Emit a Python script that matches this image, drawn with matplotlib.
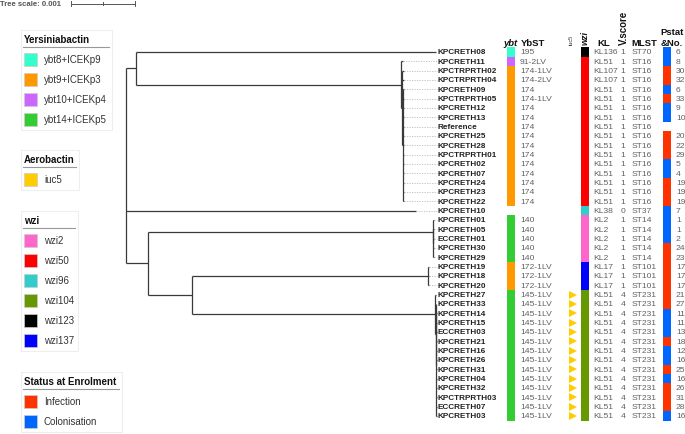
import matplotlib
matplotlib.use('Agg')
import matplotlib.pyplot as plt
from matplotlib.patches import Rectangle
from matplotlib.transforms import blended_transform_factory

plt.rcParams['font.family'] = ['Liberation Sans', 'DejaVu Sans']

# arbol (longitudes de rama en unidades de 0.001)
newick = ("((KPCRETH08:4.69,(KPCRETH11:0.03,(KPCTRPRTH02:0.03,KPCTRPRTH04:0.03,"
          "(KPCRETH09:0.02,KPCTRPRTH05:0.02,KPCRETH12:0.02,KPCRETH13:0.02,Reference:0.02,"
          "KPCRETH25:0.02,KPCRETH28:0.02,KPCTRPRTH01:0.02,KPCRETH02:0.02,KPCRETH07:0.02,"
          "KPCRETH24:0.02,KPCRETH23:0.02,KPCRETH22:0.02):0.01):0.02):4.14):0.16,"
          "KPCRETH10:4.53,"
          "((KPCRETH01:0.02,(KPCRETH05:0.01,ECCRETH01:0.01,KPCRETH30:0.01,KPCRETH29:0.01):0.01):4.45,"
          "((KPCRETH19:0.02,KPCRETH18:0.02,KPCRETH20:0.02):3.69,"
          "(KPCRETH27:0.02,(KPCRETH33:0.01,(KPCRETH14:0.01,KPCRETH15:0.01,ECCRETH03:0.01,"
          "KPCRETH21:0.01,KPCRETH16:0.01,KPCRETH26:0.01,KPCRETH31:0.01,KPCRETH04:0.01,"
          "KPCRETH32:0.01,KPCTRPRTH03:0.01,ECCRETH07:0.01,KPCRETH03:0.01):0.01):0.01):3.80):0.69):0.34);")

names = ['KPCRETH08', 'KPCRETH11', 'KPCTRPRTH02', 'KPCTRPRTH04', 'KPCRETH09', 'KPCTRPRTH05',
         'KPCRETH12', 'KPCRETH13', 'Reference', 'KPCRETH25', 'KPCRETH28', 'KPCTRPRTH01',
         'KPCRETH02', 'KPCRETH07', 'KPCRETH24', 'KPCRETH23', 'KPCRETH22', 'KPCRETH10',
         'KPCRETH01', 'KPCRETH05', 'ECCRETH01', 'KPCRETH30', 'KPCRETH29', 'KPCRETH19',
         'KPCRETH18', 'KPCRETH20', 'KPCRETH27', 'KPCRETH33', 'KPCRETH14', 'KPCRETH15',
         'ECCRETH03', 'KPCRETH21', 'KPCRETH16', 'KPCRETH26', 'KPCRETH31', 'KPCRETH04',
         'KPCRETH32', 'KPCTRPRTH03', 'ECCRETH07', 'KPCRETH03']

ybt = ['ybt8', 'ybt10', 'ybt9', 'ybt9', 'ybt9', 'ybt9', 'ybt9', 'ybt9', 'ybt9', 'ybt9',
       'ybt9', 'ybt9', 'ybt9', 'ybt9', 'ybt9', 'ybt9', 'ybt9', '', 'ybt14', 'ybt14',
       'ybt14', 'ybt14', 'ybt14', 'ybt9', 'ybt9', 'ybt9', 'ybt14', 'ybt14', 'ybt14', 'ybt14',
       'ybt14', 'ybt14', 'ybt14', 'ybt14', 'ybt14', 'ybt14', 'ybt14', 'ybt14', 'ybt14', 'ybt14']

ybst = ['195', '91-2LV', '174-1LV', '174-2LV', '174', '174-1LV', '174', '174', '174', '174',
        '174', '174', '174', '174', '174', '174', '174', '', '140', '140',
        '140', '140', '140', '172-1LV', '172-1LV', '172-1LV', '145-1LV', '145-1LV', '145-1LV', '145-1LV',
        '145-1LV', '145-1LV', '145-1LV', '145-1LV', '145-1LV', '145-1LV', '145-1LV', '145-1LV', '145-1LV', '145-1LV']

iuc5 = [False] * 26 + [True] * 14

wzi = ['wzi123', 'wzi50', 'wzi50', 'wzi50', 'wzi50', 'wzi50', 'wzi50', 'wzi50', 'wzi50', 'wzi50',
       'wzi50', 'wzi50', 'wzi50', 'wzi50', 'wzi50', 'wzi50', 'wzi50', 'wzi96', 'wzi2', 'wzi2',
       'wzi2', 'wzi2', 'wzi2', 'wzi137', 'wzi137', 'wzi137', 'wzi104', 'wzi104', 'wzi104', 'wzi104',
       'wzi104', 'wzi104', 'wzi104', 'wzi104', 'wzi104', 'wzi104', 'wzi104', 'wzi104', 'wzi104', 'wzi104']

kl = ['KL136', 'KL51', 'KL107', 'KL107', 'KL51', 'KL51', 'KL51', 'KL51', 'KL51', 'KL51',
      'KL51', 'KL51', 'KL51', 'KL51', 'KL51', 'KL51', 'KL51', 'KL38', 'KL2', 'KL2',
      'KL2', 'KL2', 'KL2', 'KL17', 'KL17', 'KL17', 'KL51', 'KL51', 'KL51', 'KL51',
      'KL51', 'KL51', 'KL51', 'KL51', 'KL51', 'KL51', 'KL51', 'KL51', 'KL51', 'KL51']

vscore = [1, 1, 1, 1, 1, 1, 1, 1, 1, 1, 1, 1, 1, 1, 1, 1, 1, 0, 1, 1,
          1, 1, 1, 1, 1, 1, 4, 4, 4, 4, 4, 4, 4, 4, 4, 4, 4, 4, 4, 4]

mlst = ['ST70', 'ST16', 'ST16', 'ST16', 'ST16', 'ST16', 'ST16', 'ST16', 'ST16', 'ST16',
        'ST16', 'ST16', 'ST16', 'ST16', 'ST16', 'ST16', 'ST16', 'ST37', 'ST14', 'ST14',
        'ST14', 'ST14', 'ST14', 'ST101', 'ST101', 'ST101', 'ST231', 'ST231', 'ST231', 'ST231',
        'ST231', 'ST231', 'ST231', 'ST231', 'ST231', 'ST231', 'ST231', 'ST231', 'ST231', 'ST231']

status = ['C', 'C', 'I', 'I', 'C', 'I', 'C', 'C', '', 'I',
          'I', 'I', 'C', 'C', 'I', 'I', 'I', 'C', 'C', 'C',
          'C', 'I', 'I', 'I', 'I', 'I', 'I', 'I', 'C', 'C',
          'C', 'I', 'C', 'C', 'I', 'C', 'I', 'I', 'I', 'C']

patient_no = ['6', '8', '30', '32', '6', '33', '9', '10', '', '20',
              '22', '29', '5', '4', '19', '19', '19', '7', '1', '1',
              '2', '24', '23', '17', '17', '17', '21', '27', '11', '11',
              '13', '18', '12', '16', '25', '16', '26', '31', '28', '16']

ybt_colors = {'ybt8': '#33ffcc', 'ybt9': '#ff9900', 'ybt10': '#cc66ff', 'ybt14': '#33cc33'}
wzi_colors = {'wzi2': '#ff66cc', 'wzi50': '#ff0000', 'wzi96': '#33cccc',
              'wzi104': '#669900', 'wzi123': '#000000', 'wzi137': '#0000ff'}
status_colors = {'I': '#ff3300', 'C': '#0066ff'}
iuc_color = '#ffcc00'

ybt_legend = ['ybt8+ICEKp9', 'ybt9+ICEKp3', 'ybt10+ICEKp4', 'ybt14+ICEKp5']
status_legend = ['Infection', 'Colonisation']


def parse_newick(s):
    pos = 0

    def node():
        nonlocal pos
        children = []
        if s[pos] == '(':
            pos += 1
            while True:
                children.append(node())
                if s[pos] == ',':
                    pos += 1
                    continue
                pos += 1
                break
        start = pos
        while pos < len(s) and s[pos] not in ',);':
            pos += 1
        name, _, bl = s[start:pos].partition(':')
        return {'name': name, 'bl': float(bl) if bl else 0.0, 'children': children}
    return node()


def layout(n, depth):
    n['x'] = depth + n['bl']
    for c in n['children']:
        layout(c, n['x'])
    if n['children']:
        n['y'] = (n['children'][0]['y'] + n['children'][-1]['y']) / 2
    else:
        n['y'] = names.index(n['name'])


def tips(n):
    if not n['children']:
        return [n]
    out = []
    for c in n['children']:
        out += tips(c)
    return out


tree = parse_newick(newick)
tree['bl'] = 0.0
layout(tree, 0.0)
max_x = max(t['x'] for t in tips(tree))

W, H = 685, 435
ROW_Y0, ROW_H = 53, 9.33
ROOT_PX, PX_PER_UNIT = 126, 64
ylim_rows = ((H - ROW_Y0) / ROW_H, -ROW_Y0 / ROW_H)

fig = plt.figure(figsize=(W / 100, H / 100), dpi=100)

# ejes del arbol
ax_tree = fig.add_axes([ROOT_PX / W, 0, max_x * PX_PER_UNIT / W, 1])
ax_tree.set_xlim(0, max_x)
ax_tree.set_ylim(*ylim_rows)
ax_tree.axis('off')

line_c = '#3a3a3a'


def draw(n):
    if n['children']:
        ax_tree.plot([n['x'], n['x']], [n['children'][0]['y'], n['children'][-1]['y']],
                     color=line_c, lw=0.9, solid_capstyle='butt', clip_on=False)
        for c in n['children']:
            ax_tree.plot([n['x'], c['x']], [c['y'], c['y']], color=line_c, lw=0.9,
                         solid_capstyle='butt', clip_on=False)
            draw(c)
    else:
        if n['x'] < max_x - 0.01:
            ax_tree.plot([n['x'], max_x], [n['y'], n['y']], color='#bbbbbb', lw=0.6,
                         ls=(0, (1.5, 1.5)), clip_on=False)


draw(tree)

# barra de escala
bt = blended_transform_factory(ax_tree.transData, fig.transFigure)
sb0 = (71 - ROOT_PX) / PX_PER_UNIT
yb = 1 - 4.5 / H
ax_tree.plot([sb0, sb0 + 1], [yb, yb], color='#555555', lw=0.7, transform=bt, clip_on=False)
for xx, hh in [(sb0, 2.5), (sb0 + 0.5, 1.5), (sb0 + 1, 2.5)]:
    ax_tree.plot([xx, xx], [yb - hh / H, yb + hh / H], color='#555555', lw=0.7,
                 transform=bt, clip_on=False)

# anotaciones
ax = fig.add_axes([0, 0, 1, 1])
ax.set_xlim(0, W)
ax.set_ylim(*ylim_rows)
ax.axis('off')

txt = dict(fontsize=6.1, color='#606060', va='center')
rows = list(range(len(names)))
for i, nm in enumerate(names):
    ax.text(438, i, nm, fontsize=5.9, fontweight='bold', color='#222222', va='center', ha='left')
    ax.text(520, i, ybst[i], ha='left', **txt)
    ax.text(593, i, kl[i], ha='left', **txt)
    ax.text(623, i, str(vscore[i]), ha='center', **txt)
    ax.text(632, i, mlst[i], ha='left', **txt)
    ax.text(676, i, patient_no[i], ha='left', **txt)

ax.barh(rows, 8, left=507, height=1.0,
        color=[ybt_colors.get(v, 'none') for v in ybt], linewidth=0)
ax.barh(rows, 8, left=581, height=1.0,
        color=[wzi_colors[v] for v in wzi], linewidth=0)
ax.barh(rows, 8, left=663, height=1.0,
        color=[status_colors.get(v, 'none') for v in status], linewidth=0)
iuc_rows = [i for i in rows if iuc5[i]]
ax.plot([573] * len(iuc_rows), iuc_rows, ls='none', marker='>', ms=6.2,
        color=iuc_color, markeredgewidth=0)

# capa en pixeles para cabeceras y leyendas
axp = fig.add_axes([0, 0, 1, 1])
axp.set_xlim(0, W)
axp.set_ylim(H, 0)
axp.axis('off')
axp.patch.set_alpha(0)

axp.text(0, 5, 'Tree scale: 0.001', fontsize=5.6, fontweight='bold', color='#555555', va='center')

hdr = dict(fontsize=6.8, fontweight='bold', color='#111111', va='baseline')
axp.text(510, 46, 'ybt', style='italic', ha='center', **hdr)
axp.text(521, 46, 'YbST', ha='left', **hdr)
axp.text(604, 46, 'KL', ha='center', **hdr)
axp.text(631, 46, 'MLST', ha='left', **hdr)
axp.text(672, 35, 'Pstat', ha='center', **hdr)
axp.text(672, 46, '&No.', ha='center', **hdr)
axp.text(571, 45, 'iuc5', fontsize=4, color='#333333', rotation=90, ha='center', va='bottom')
axp.text(585, 45, 'wzi', fontsize=6.5, fontweight='bold', style='italic', color='#111111',
         rotation=90, ha='center', va='bottom')
axp.text(624, 45, 'V.score', fontsize=7, fontweight='bold', color='#111111',
         rotation=90, ha='center', va='bottom')


def legend_box(top, width, title, labels, colors):
    bottom = top + 29 + 20 * (len(labels) - 1) + 11
    axp.add_patch(Rectangle((21, top), width, bottom - top, facecolor='white',
                            edgecolor='#eeeeee', lw=0.8))
    axp.text(24, top + 9, title, fontsize=7, fontweight='bold', color='#111111', va='center')
    axp.plot([23, 21 + width - 3], [top + 17, top + 17], color='#999999', lw=0.8)
    for k, (lab, col) in enumerate(zip(labels, colors)):
        yy = top + 29 + 20 * k
        axp.add_patch(Rectangle((24, yy - 6.5), 13, 13, facecolor=col,
                                edgecolor='#cccccc', lw=0.5))
        axp.text(44, yy, lab, fontsize=7, color='#333333', va='center')


legend_box(31, 91, 'Yersiniabactin', ybt_legend, list(ybt_colors.values()))
legend_box(151, 58, 'Aerobactin', ['iuc5'], [iuc_color])
legend_box(212, 57, 'wzi', list(wzi_colors.keys()), list(wzi_colors.values()))
legend_box(373, 101, 'Status at Enrolment', status_legend, list(status_colors.values()))

fig.savefig('out.png', dpi=100)
